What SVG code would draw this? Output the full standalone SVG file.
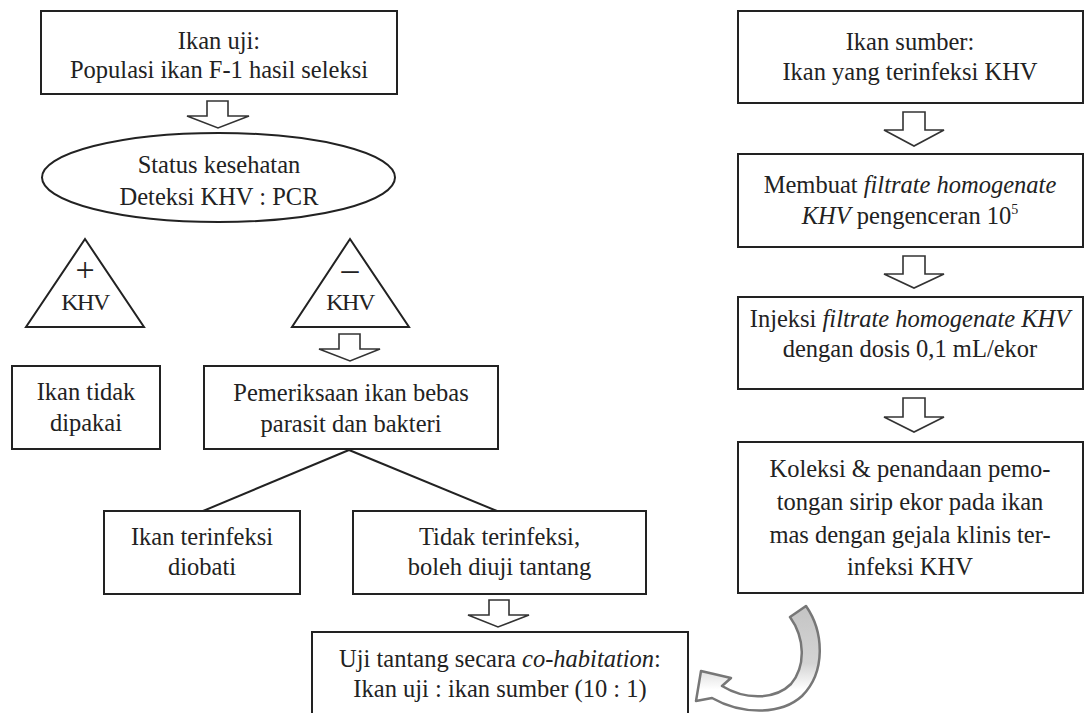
<svg xmlns="http://www.w3.org/2000/svg" width="1084" height="713" viewBox="0 0 1084 713">
<defs>
<style>
.box{fill:#fff;stroke:#222;stroke-width:2}
.arr{fill:#fff;stroke:#333;stroke-width:1.6;stroke-linejoin:miter}
.ln{stroke:#222;stroke-width:2;fill:none}
text{font-family:"Liberation Serif","Times New Roman",serif;font-size:24.5px;fill:#222;text-anchor:middle}
.i{font-style:italic}
.k{font-size:24px;letter-spacing:-1.5px}
.s{font-size:34px}
</style>
<linearGradient id="g" x1="0" y1="0" x2="0" y2="1">
<stop offset="0" stop-color="#c4c4c4"/>
<stop offset="0.55" stop-color="#d4d4d4"/>
<stop offset="0.8" stop-color="#ffffff"/>
</linearGradient>
</defs>
<rect width="1084" height="713" fill="#fff"/>

<g id="n-ikan-uji">
<rect class="box" x="41" y="11" width="356" height="83"/>
<text x="219" y="49">Ikan uji:</text>
<text x="219" y="78">Populasi ikan F-1 hasil seleksi</text>
</g>

<g id="n-status">
<ellipse class="box" cx="218.5" cy="177.5" rx="176.5" ry="44.5"/>
<text x="219" y="173">Status kesehatan</text>
<text x="219" y="205">Deteksi KHV : PCR</text>
</g>

<g id="n-pos">
<polygon class="box" points="85,239 26,327 144,327"/>
<text class="s" x="85" y="281">+</text>
<text class="k" x="85" y="310">KHV</text>
</g>

<g id="n-neg">
<polygon class="box" points="350,239 292,327 409,327"/>
<text class="s" x="350" y="280">–</text>
<text class="k" x="350" y="310">KHV</text>
</g>

<g id="n-tidak-dipakai">
<rect class="box" x="12" y="366" width="148" height="83"/>
<text x="86" y="400">Ikan tidak</text>
<text x="86" y="431">dipakai</text>
</g>

<g id="n-pemeriksaan">
<rect class="box" x="204" y="366" width="294" height="83"/>
<text x="351" y="401">Pemeriksaan ikan bebas</text>
<text x="351" y="432">parasit dan bakteri</text>
</g>

<g id="n-diobati">
<rect class="box" x="104" y="511" width="196" height="83"/>
<text x="202" y="545">Ikan terinfeksi</text>
<text x="202" y="575">diobati</text>
</g>

<g id="n-tidak-terinfeksi">
<rect class="box" x="353" y="511" width="293" height="83"/>
<text x="499.5" y="545">Tidak terinfeksi,</text>
<text x="499.5" y="575">boleh diuji tantang</text>
</g>

<g id="n-uji-tantang">
<rect class="box" x="312" y="632" width="376" height="95"/>
<text x="500" y="667">Uji tantang secara <tspan class="i">co-habitation</tspan>:</text>
<text x="500" y="697">Ikan uji : ikan sumber (10 : 1)</text>
</g>

<g id="n-ikan-sumber">
<rect class="box" x="738" y="11" width="345" height="92"/>
<text x="910" y="50">Ikan sumber:</text>
<text x="910" y="80">Ikan yang terinfeksi KHV</text>
</g>

<g id="n-membuat">
<rect class="box" x="738" y="154" width="345" height="93"/>
<text x="910" y="193">Membuat <tspan class="i">filtrate homogenate</tspan></text>
<text x="910" y="224"><tspan class="i">KHV</tspan> pengenceran 10<tspan font-size="14" dy="-10">5</tspan></text>
</g>

<g id="n-injeksi">
<rect class="box" x="738" y="297" width="345" height="92"/>
<text x="910" y="327">Injeksi <tspan class="i">filtrate homogenate KHV</tspan></text>
<text x="910" y="357">dengan dosis 0,1 mL/ekor</text>
</g>

<g id="n-koleksi">
<rect class="box" x="738" y="442" width="345" height="151"/>
<text x="910" y="477">Koleksi &amp; penandaan pemo-</text>
<text x="910" y="510">tongan sirip ekor pada ikan</text>
<text x="910" y="543">mas dengan gejala klinis ter-</text>
<text x="910" y="575">infeksi KHV</text>
</g>

<g id="connectors">
<path class="arr" d="M207,101 V116 H187 L218,128 L249,116 H228 V101 Z"/>
<path class="arr" d="M339,334 V349 H319 L350,361 L380,349 H360 V334 Z"/>
<line class="ln" x1="349" y1="450" x2="203" y2="511"/>
<line class="ln" x1="349" y1="450" x2="497" y2="511"/>
<path class="arr" d="M489,600 V615 H468 L498,627 L529,615 H509 V600 Z"/>
<path class="arr" d="M903,112 V130 H884 L914,146 L944,130 H925 V112 Z"/>
<path class="arr" d="M903,256 V274 H884 L914,288 L944,274 H925 V256 Z"/>
<path class="arr" d="M903,398 V417 H884 L914,432 L944,417 H925 V398 Z"/>
<path d="M806,606 C824,632 826,672 802,696 C780,716 740,714 712,698 L696,701 L701,671 L731,678 L722,686 C745,700 775,700 791,684 C806,666 805,638 790,617 Z" fill="url(#g)" stroke="#777" stroke-width="2.5" stroke-linejoin="round"/>
</g>
</svg>
